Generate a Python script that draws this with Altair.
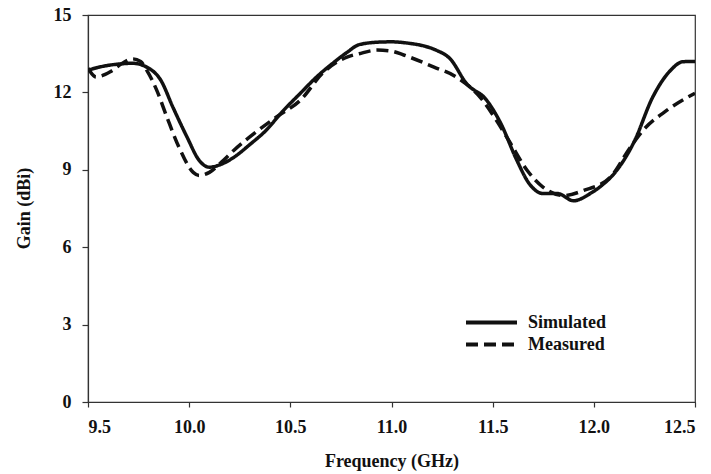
import altair as alt
import pandas as pd

sim_freq = [9.50, 9.55, 9.61, 9.67, 9.72, 9.79, 9.86, 9.92, 9.99, 10.05, 10.10, 10.16,
            10.22, 10.30, 10.38, 10.46, 10.55, 10.63, 10.71, 10.78, 10.84, 10.94, 11.00,
            11.09, 11.16, 11.22, 11.29, 11.37, 11.47, 11.54, 11.62, 11.68, 11.75, 11.82,
            11.90, 11.98, 12.04, 12.10, 12.20, 12.29, 12.38, 12.44, 12.50]
sim_gain = [12.86, 12.97, 13.06, 13.11, 13.13, 12.98, 12.47, 11.42, 10.26, 9.36, 9.10, 9.22,
            9.48, 9.98, 10.53, 11.25, 11.97, 12.60, 13.13, 13.55, 13.85, 13.95, 13.96,
            13.90, 13.80, 13.64, 13.30, 12.35, 11.70, 10.80, 9.36, 8.47, 8.08, 8.08,
            7.80, 8.07, 8.40, 8.85, 10.10, 11.80, 12.86, 13.19, 13.20]

meas_freq = [9.50, 9.54, 9.61, 9.67, 9.72, 9.76, 9.79, 9.84, 9.89, 9.95, 10.02, 10.05, 10.10,
             10.16, 10.22, 10.32, 10.43, 10.55, 10.66, 10.78, 10.84, 10.93, 11.00, 11.06,
             11.21, 11.32, 11.45, 11.52, 11.59, 11.67, 11.75, 11.85, 11.95, 12.08, 12.18,
             12.24, 12.36, 12.50]
meas_gain = [12.94, 12.60, 12.80, 13.13, 13.30, 13.20, 12.86, 12.08, 11.04, 9.87, 8.90, 8.78,
             8.90, 9.30, 9.75, 10.40, 11.04, 11.70, 12.75, 13.37, 13.50, 13.64, 13.60, 13.45,
             12.98, 12.60, 11.70, 10.90, 10.00, 8.98, 8.32, 8.00, 8.20, 8.70, 9.87, 10.50,
             11.30, 11.97]

series_names = ["Simulated", "Measured"]
x_ticks = [9.5, 10.0, 10.5, 11.0, 11.5, 12.0, 12.5]
y_ticks = [0, 3, 6, 9, 12, 15]

df = pd.concat([
    pd.DataFrame({"freq": sim_freq, "gain": sim_gain, "series": series_names[0], "order": range(len(sim_freq))}),
    pd.DataFrame({"freq": meas_freq, "gain": meas_gain, "series": series_names[1], "order": range(len(meas_freq))}),
])

FONT = "Liberation Serif, DejaVu Serif, serif"

chart = alt.Chart(df).mark_line(strokeWidth=3.5, interpolate="monotone", clip=True, color="#111111").encode(
    x=alt.X("freq:Q", scale=alt.Scale(domain=[9.5, 12.5], nice=False, zero=False),
            axis=alt.Axis(values=x_ticks, format=".1f", title="Frequency (GHz)", grid=False,
                          tickSize=5, labelPadding=11, titleY=50, titleBaseline="top")),
    y=alt.Y("gain:Q", scale=alt.Scale(domain=[0, 15], nice=False),
            axis=alt.Axis(values=y_ticks, title="Gain (dBi)", grid=False,
                          tickSize=6, labelPadding=11, titleX=-64, titleY=193,
                          titleAngle=-90, titleBaseline="middle", titleAlign="center")),
    strokeDash=alt.StrokeDash("series:N",
                              scale=alt.Scale(domain=series_names, range=[[1, 0], [12, 6]]),
                              legend=alt.Legend(title=None, orient="none", legendX=393, legendY=297,
                                                symbolType="M-3,0H3", symbolSize=289,
                                                symbolStrokeWidth=4, symbolStrokeColor="#111111",
                                                labelFont=FONT, labelFontSize=18, labelFontWeight="bold",
                                                labelColor="#111111", labelOffset=26, rowPadding=2,
                                                padding=0)),
    order="order:Q",
).properties(
    width=607, height=387,
    autosize=alt.AutoSizeParams(type="none"),
    padding={"left": 88, "top": 15, "right": 16, "bottom": 72},
    background="white",
).configure_view(
    stroke="#333333", strokeWidth=1.2
).configure_axis(
    labelFont=FONT, labelFontSize=18, labelFontWeight="bold", labelColor="#111111",
    titleFont=FONT, titleFontSize=18, titleFontWeight="bold", titleColor="#111111",
    domainColor="#333333", tickColor="#333333", domainWidth=1.2, tickWidth=1.2,
)

chart.save("out.html", embed_options={"renderer": "svg", "actions": False})
